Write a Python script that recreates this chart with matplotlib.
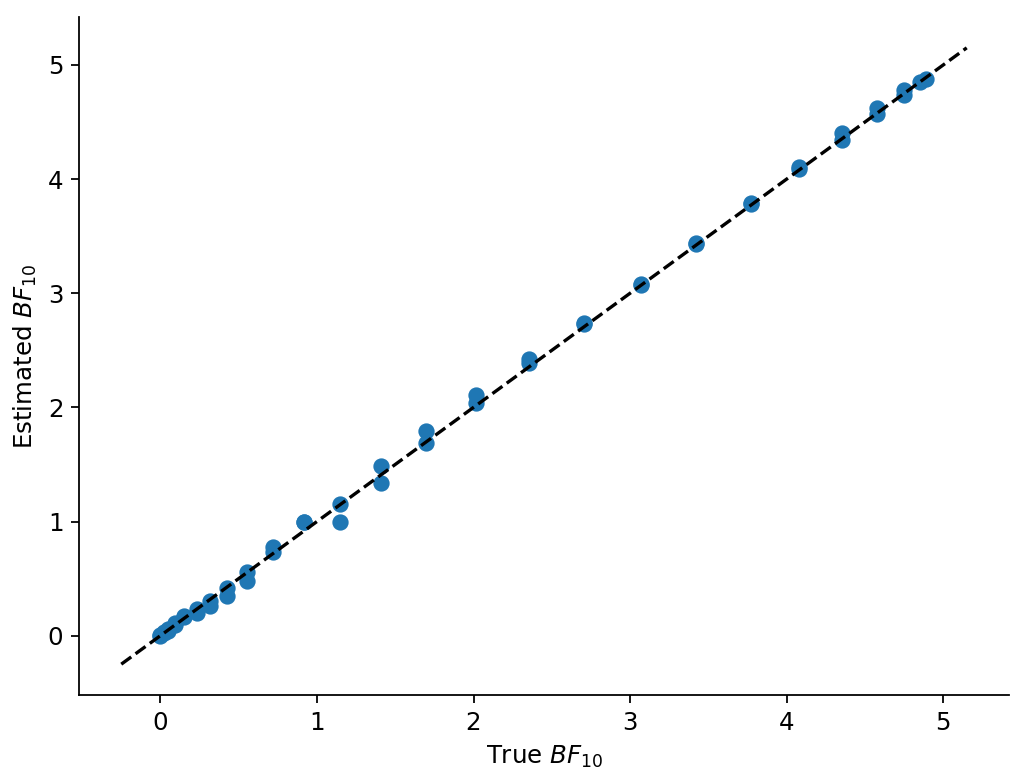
import matplotlib
matplotlib.use("Agg")
import matplotlib.pyplot as plt
import numpy as np

true_bf = [0.0, 0.0, 0.02, 0.02, 0.05, 0.05, 0.09, 0.09, 0.15, 0.15,
           0.236, 0.236, 0.318, 0.318, 0.428, 0.428, 0.556, 0.556,
           0.718, 0.718, 0.917, 0.917, 1.146, 1.146, 1.406, 1.406,
           1.694, 1.694, 2.017, 2.017, 2.357, 2.357, 2.707, 2.707,
           3.068, 3.068, 3.422, 3.422, 3.775, 3.775, 4.076, 4.076,
           4.352, 4.352, 4.58, 4.58, 4.75, 4.75, 4.85, 4.89]
est_bf = [0.01, 0.0, 0.03, 0.02, 0.06, 0.04, 0.11, 0.09, 0.17, 0.16,
          0.234, 0.20, 0.307, 0.26, 0.418, 0.351, 0.555, 0.48,
          0.775, 0.73, 1.0, 0.994, 1.149, 0.995, 1.482, 1.339,
          1.792, 1.69, 2.105, 2.038, 2.42, 2.39, 2.735, 2.73,
          3.085, 3.075, 3.44, 3.435, 3.79, 3.78, 4.11, 4.09,
          4.40, 4.34, 4.625, 4.57, 4.78, 4.74, 4.85, 4.88]

line_ends = [-0.25, 5.15]

plt.rcParams["font.size"] = 11
fig = plt.figure(figsize=(1026 / 160, 782 / 160), dpi=160)
ax = fig.add_axes([79 / 1026, 1 - 695 / 782, (1009 - 79) / 1026, (695 - 17) / 782])
ax.scatter(true_bf, est_bf, color="#1f77b4", s=40)
ax.plot(line_ends, line_ends, "k--")
ax.set_xlabel("True $BF_{10}$")
ax.set_ylabel("Estimated $BF_{10}$")
ax.spines["top"].set_visible(False)
ax.spines["right"].set_visible(False)
fig.savefig("out.png", dpi=160)
